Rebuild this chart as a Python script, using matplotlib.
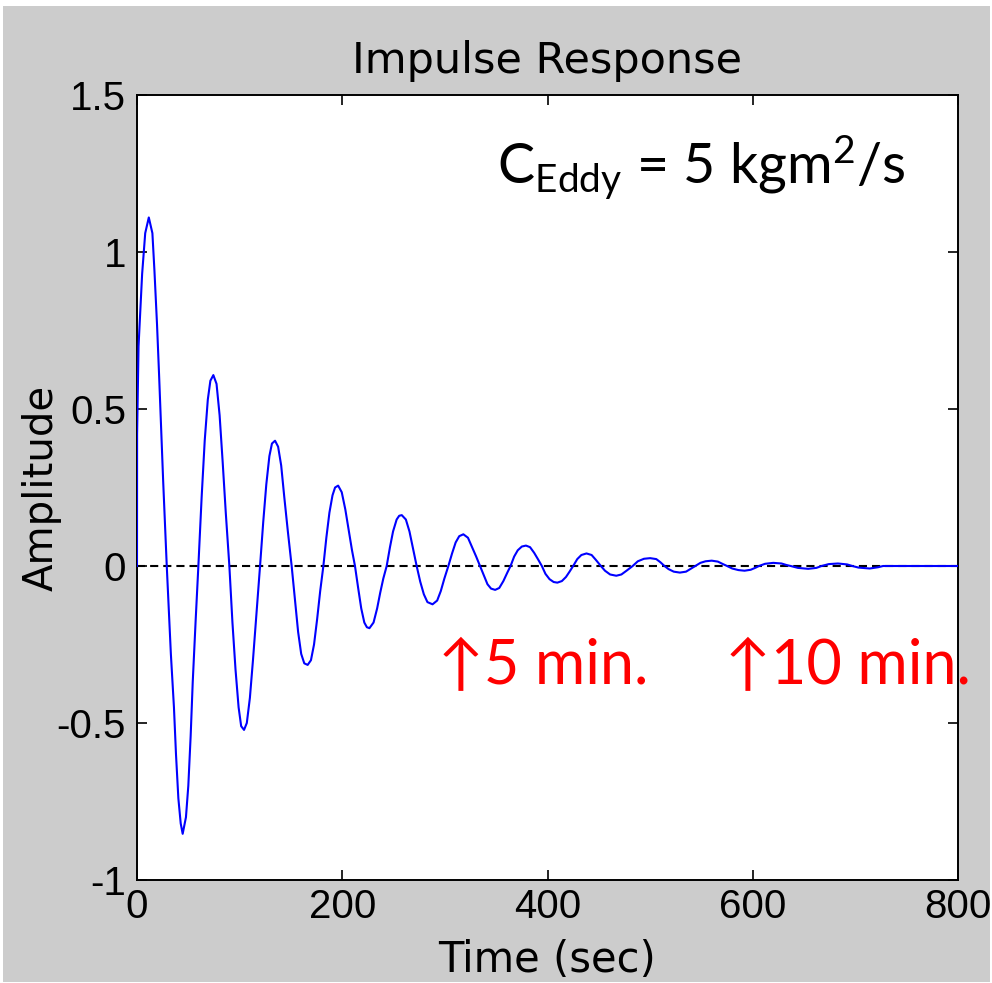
import matplotlib
matplotlib.use("Agg")
import matplotlib.pyplot as plt
from matplotlib.patches import Rectangle

# Datos (tiempo en s, amplitud)
tiempo = [0, 0.1, 1.5, 5, 8, 11.5, 15, 17, 19.5, 21.5, 23.5, 25.5, 29,
          33, 36, 38, 40.3, 42.6, 44.5, 47.7, 50, 52.3, 54.3, 57.2, 59.8,
          63, 66, 69, 71.5, 74.4, 77.5, 80.5, 83.5, 86.5, 90,
          93, 96, 99, 101.5, 104.3, 107, 110, 113, 116.5, 119.9,
          123, 126, 129, 131.5, 134.5, 137.5, 140.5, 143.5, 147, 150.7,
          154, 157, 160, 163, 166.3, 169.5, 172.5, 175.5, 178.5, 181.6,
          184.5, 187.5, 190.5, 193, 196, 199.5, 203, 206.5, 209.5, 212.4,
          215.5, 218.5, 221.5, 224, 226.5, 230.5, 234, 237, 240, 243.3,
          246.5, 249.5, 253, 255.5, 258, 262, 265.5, 269, 272.5,
          276, 279.5, 283, 288, 292.5, 296, 299.5, 303.4,
          307, 310.5, 314, 318, 322.5, 326.5, 330.5, 334.2,
          338, 341.5, 345, 349, 353, 357, 361, 364,
          367.5, 371, 375, 379, 383, 387, 391, 394.5,
          398, 402, 406, 409.6, 414, 418, 421.5, 425,
          429, 433, 438, 443, 447, 452,
          456, 461, 467, 472, 477, 483,
          488, 494, 500, 506, 510, 514,
          518, 523, 529, 535, 540, 544,
          549, 554, 560, 566, 571, 575,
          580, 586, 592, 598, 603, 606,
          612, 620, 628, 633, 637,
          644, 654, 662, 667,
          674, 683, 692, 697,
          703, 714, 722, 727, 800]
amplitud = [0, 0.42, 0.70, 0.93, 1.06, 1.11, 1.06, 0.94, 0.77, 0.61, 0.44, 0.27, 0.0,
            -0.28, -0.45, -0.60, -0.74, -0.82, -0.853, -0.80, -0.70, -0.54, -0.37, -0.17, 0.0,
            0.22, 0.40, 0.53, 0.59, 0.608, 0.58, 0.48, 0.33, 0.17, 0.0,
            -0.18, -0.33, -0.45, -0.51, -0.522, -0.50, -0.42, -0.30, -0.15, 0.0,
            0.14, 0.26, 0.35, 0.39, 0.399, 0.38, 0.32, 0.22, 0.11, 0.0,
            -0.11, -0.21, -0.28, -0.31, -0.315, -0.30, -0.25, -0.17, -0.08, 0.0,
            0.09, 0.17, 0.225, 0.25, 0.256, 0.235, 0.18, 0.11, 0.05, 0.0,
            -0.07, -0.135, -0.18, -0.195, -0.198, -0.18, -0.135, -0.085, -0.04, 0.0,
            0.06, 0.11, 0.148, 0.16, 0.162, 0.148, 0.11, 0.055, 0.0,
            -0.05, -0.09, -0.115, -0.122, -0.11, -0.08, -0.04, 0.0,
            0.04, 0.075, 0.095, 0.101, 0.09, 0.06, 0.03, 0.0,
            -0.03, -0.058, -0.072, -0.076, -0.07, -0.048, -0.02, 0.0,
            0.03, 0.05, 0.062, 0.065, 0.06, 0.042, 0.02, 0.0,
            -0.025, -0.042, -0.051, -0.053, -0.048, -0.035, -0.018, 0.0,
            0.022, 0.035, 0.040, 0.035, 0.02, 0.0,
            -0.015, -0.027, -0.031, -0.027, -0.015, 0.0,
            0.015, 0.023, 0.025, 0.022, 0.012, 0.0,
            -0.01, -0.018, -0.021, -0.018, -0.008, 0.0,
            0.01, 0.015, 0.017, 0.014, 0.006, 0.0,
            -0.008, -0.013, -0.015, -0.012, -0.005, 0.0,
            0.007, 0.010, 0.008, 0.003, 0.0,
            -0.006, -0.009, -0.006, 0.0,
            0.006, 0.008, 0.005, 0.0,
            -0.005, -0.008, -0.004, 0.0, 0.0]

xticks = [0, 200, 400, 600, 800]
yticks = [-1, -0.5, 0, 0.5, 1, 1.5]
yticklabels = ["-1", "-0.5", "0", "0.5", "1", "1.5"]

plt.rcParams['mathtext.fontset'] = 'custom'
plt.rcParams['mathtext.rm'] = 'Lato'
plt.rcParams['mathtext.it'] = 'Lato'

W, H = 992, 983
fig = plt.figure(figsize=(W / 100, H / 100), dpi=100, facecolor='white')
# fondo gris estilo MATLAB
fig.patches.append(Rectangle((3 / W, 1 / H), 987 / W, 976 / H, transform=fig.transFigure,
                             facecolor='#cccccc', edgecolor='none', zorder=-10))

ax = fig.add_axes([137 / W, (H - 880) / H, 821 / W, 785 / H])
ax.set_facecolor('white')

# linea de cero punteada
ax.plot([0, 800], [0, 0], color='black', lw=1.5, linestyle=(0, (3.9, 2.4)), zorder=2)
# respuesta al impulso
ax.plot(tiempo, amplitud, color='#0000ff', lw=1.5, zorder=3)

ax.set_xlim(0, 800)
ax.set_ylim(-1, 1.5)
ax.set_xticks(xticks)
ax.set_xticklabels([str(v) for v in xticks])
ax.set_yticks(yticks)
ax.set_yticklabels(yticklabels)

for s in ax.spines.values():
    s.set_linewidth(1.4)
    s.set_color('black')
ax.tick_params(direction='in', length=7, width=1.2, top=True, right=True,
               labelsize=29, colors='black')
ax.tick_params(axis='x', pad=6)
ax.tick_params(axis='y', pad=8)
for lab in ax.get_xticklabels() + ax.get_yticklabels():
    lab.set_family(['Liberation Sans', 'DejaVu Sans'])

ax.set_title('Impulse Response', fontsize=31, family='DejaVu Sans', pad=16)
ax.set_xlabel('Time (sec)', fontsize=30, family='DejaVu Sans', labelpad=9)
ax.set_ylabel('Amplitude', fontsize=29, family='DejaVu Sans', labelpad=-4)

# anotaciones
ax.text(351, 1.22, r'C$_{\mathrm{Eddy}}$ = 5 kgm$^{2}$/s', fontsize=40,
        family='Lato', color='black', va='baseline', ha='left')
ax.text(293, -0.376, '\u21915 min.', fontsize=44, family=['Lato', 'DejaVu Sans'],
        color='red', va='baseline', ha='left', clip_on=False)
ax.text(573, -0.376, '\u219110 min.', fontsize=44, family=['Lato', 'DejaVu Sans'],
        color='red', va='baseline', ha='left', clip_on=False)

fig.savefig('out.png', dpi=100, facecolor=fig.get_facecolor())
